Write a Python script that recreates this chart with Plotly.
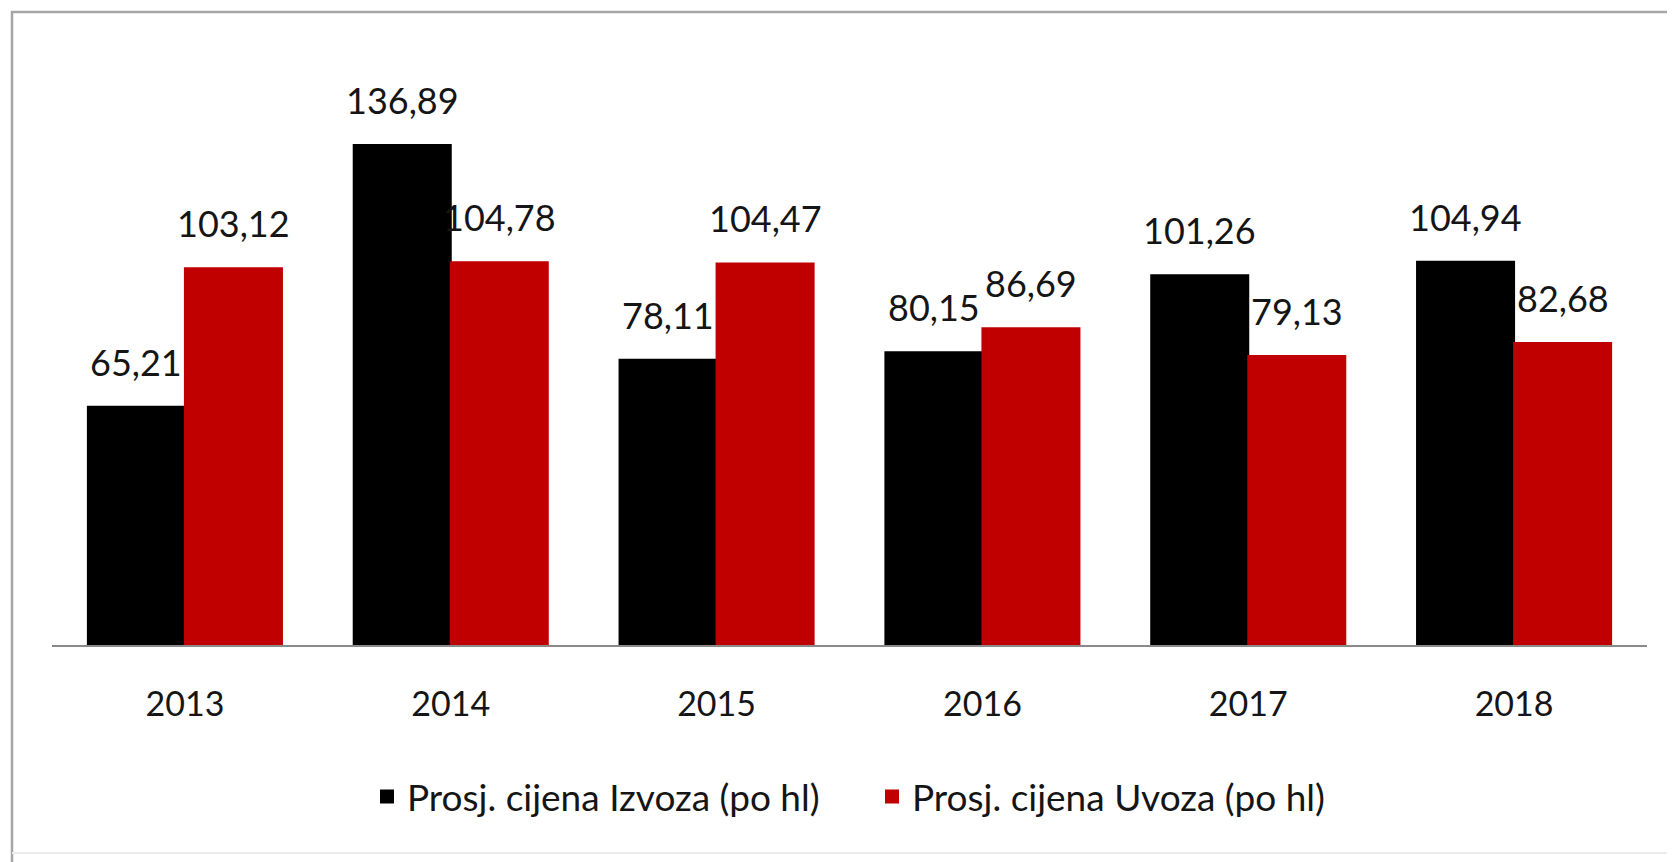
import plotly.graph_objects as go

years = ["2013", "2014", "2015", "2016", "2017", "2018"]
izvoz = [65.21, 136.89, 78.11, 80.15, 101.26, 104.94]
uvoz = [103.12, 104.78, 104.47, 86.69, 79.13, 82.68]
izvoz_name = "Prosj. cijena Izvoza (po hl)"
uvoz_name = "Prosj. cijena Uvoza (po hl)"

FONT = "Lato"
TXT = "#151515"

def fmt(v):
    return f"{v:.2f}".replace(".", ",")

fig = go.Figure()
fig.add_trace(go.Bar(x=years, y=izvoz, name=izvoz_name,
                     marker=dict(color="#000000", line=dict(width=2, color="#000000"))))
fig.add_trace(go.Bar(x=years, y=uvoz, name=uvoz_name,
                     marker=dict(color="#C00000", line=dict(width=2, color="#C00000"))))

annotations = []
for i, (a, b) in enumerate(zip(izvoz, uvoz)):
    for v, dx in ((a, -48.5), (b, 48.5)):
        annotations.append(dict(x=i, y=v, xref="x", yref="y", text=fmt(v), showarrow=False,
                                xshift=dx, yshift=45, yanchor="middle",
                                font=dict(family=FONT, size=36, color=TXT)))

# page body adds an 8px offset; figure coords = page coords - 8
OFF = 8
W, H = 1675 - OFF, 862 - OFF
L, T = 52 - OFF, 60 - OFF
R = W - (1647 - OFF)
B = H - (645 - OFF)
pw, ph = W - L - R, H - T - B
def px(x): return (x - OFF - L) / pw
def py(y): return (H - B - (y - OFF)) / ph

shapes = [
    dict(type="path", xref="paper", yref="paper",
         path=f"M {px(1700)} {py(12)} L {px(12)} {py(12)} L {px(12)} {py(870)}",
         line=dict(color="#a6a6a6", width=2.5)),
    dict(type="line", xref="paper", yref="paper", x0=px(12), x1=px(1700), y0=py(853), y1=py(853),
         line=dict(color="#ececec", width=2)),
]

fig.update_layout(
    width=W, height=H,
    margin=dict(l=L, r=R, t=T, b=B),
    paper_bgcolor="white", plot_bgcolor="white",
    barmode="group", bargap=0.27, bargroupgap=0,
    showlegend=True,
    legend=dict(orientation="h", x=px(872), xanchor="center", y=py(797), yanchor="middle",
                font=dict(family=FONT, size=37, color=TXT), itemclick=False,
                entrywidth=460, entrywidthmode="pixels"),
    xaxis=dict(type="category", range=[-0.5, len(years) - 0.5], autorange=False,
               showline=True, linecolor="#8a8a8a", linewidth=1.5, ticks="outside", ticklen=28,
               tickcolor="rgba(0,0,0,0)", tickfont=dict(family=FONT, size=34, color=TXT),
               showgrid=False, zeroline=False),
    yaxis=dict(visible=False, range=[0, 585 / 3.6526], autorange=False, showgrid=False, zeroline=False),
    annotations=annotations, shapes=shapes,
)

fig.write_html("out.html")
